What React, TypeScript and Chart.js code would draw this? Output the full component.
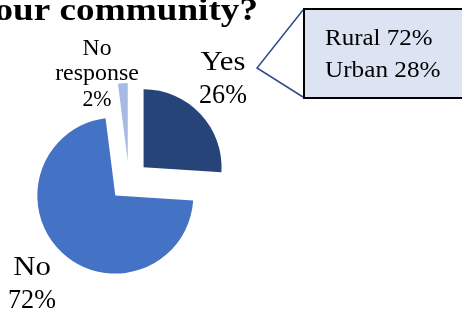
import React, { useEffect, useRef } from "react";
import { Chart, registerables } from "chart.js";

Chart.register(...registerables);

const categories = ["Yes", "No", "No response"];
const values = [26, 72, 2];
const labelLines = [["Yes", "26%"], ["No", "72%"], ["No", "response", "2%"]];
const calloutLines = ["Rural 72%", "Urban 28%"];
const titleText = "your community?";
const sliceColors = ["#264478", "#4472C4", "#A7BAE3"];
const explode = 20;

const SERIF = '"Liberation Serif", "Times New Roman", serif';

function drawText(ctx: CanvasRenderingContext2D, text: string, x: number, y: number, font: string, align: CanvasTextAlign, sx: number) {
  ctx.save();
  ctx.font = font;
  ctx.textAlign = align;
  ctx.textBaseline = "alphabetic";
  ctx.fillStyle = "#000";
  ctx.translate(x, y);
  ctx.scale(sx, 1);
  ctx.fillText(text, 0, 0);
  ctx.restore();
}

const explodePlugin = {
  id: "explode",
  afterDatasetsUpdate(chart: any) {
    const meta = chart.getDatasetMeta(0);
    meta.data.forEach((arc: any) => {
      const mid = (arc.startAngle + arc.endAngle) / 2;
      arc.x += Math.cos(mid) * explode;
      arc.y += Math.sin(mid) * explode;
    });
  },
};

const overlayPlugin = {
  id: "overlay",
  afterDraw(chart: any) {
    const ctx = chart.ctx as CanvasRenderingContext2D;
    drawText(ctx, titleText, 258, 20, `bold 31px ${SERIF}`, "right", 1.2);

    const fBig = `27.5px ${SERIF}`;
    const fMid = `23px ${SERIF}`;
    const yes = labelLines[0];
    drawText(ctx, yes[0], 223, 70, fBig, "center", 1.12);
    drawText(ctx, yes[1], 223, 103, fBig, "center", 0.95);
    const no = labelLines[1];
    drawText(ctx, no[0], 32, 275, fBig, "center", 1.12);
    drawText(ctx, no[1], 32, 308, fBig, "center", 0.95);
    const nr = labelLines[2];
    drawText(ctx, nr[0], 97, 55, fMid, "center", 1.03);
    drawText(ctx, nr[1], 97, 80, fMid, "center", 1.04);
    drawText(ctx, nr[2], 97, 106, fMid, "center", 0.95);

    ctx.save();
    ctx.fillStyle = "#DCE4F3";
    ctx.fillRect(304, 9, 170, 89);
    ctx.strokeStyle = "#000";
    ctx.lineWidth = 2;
    ctx.strokeRect(304, 9, 170, 89);
    ctx.strokeStyle = "#2F4B8A";
    ctx.lineWidth = 1.5;
    ctx.beginPath();
    ctx.moveTo(303, 10);
    ctx.lineTo(257, 68);
    ctx.lineTo(303, 97);
    ctx.stroke();
    ctx.restore();
    drawText(ctx, calloutLines[0], 325, 45, `24px ${SERIF}`, "left", 1.04);
    drawText(ctx, calloutLines[1], 325, 77, `24px ${SERIF}`, "left", 1.05);
  },
};

export default function App() {
  const ref = useRef<HTMLCanvasElement>(null);
  useEffect(() => {
    if (!ref.current) return;
    const chart = new Chart(ref.current, {
      type: "pie",
      data: {
        labels: categories,
        datasets: [
          {
            data: values,
            backgroundColor: sliceColors,
            borderWidth: 0,
          },
        ],
      },
      options: {
        animation: false,
        responsive: false,
        radius: 78,
        rotation: 0,
        layout: { padding: { left: 0, right: 204, top: 51, bottom: 0 } },
        plugins: { legend: { display: false }, tooltip: { enabled: false }, title: { display: false } },
      } as any,
      plugins: [explodePlugin, overlayPlugin],
    });
    return () => chart.destroy();
  }, []);
  return (
    <div style={{ position: "fixed", left: 0, top: 0, width: 462, height: 311, background: "#fff" }}>
      <canvas ref={ref} width={462} height={311} style={{ width: 462, height: 311, display: "block" }} />
    </div>
  );
}
